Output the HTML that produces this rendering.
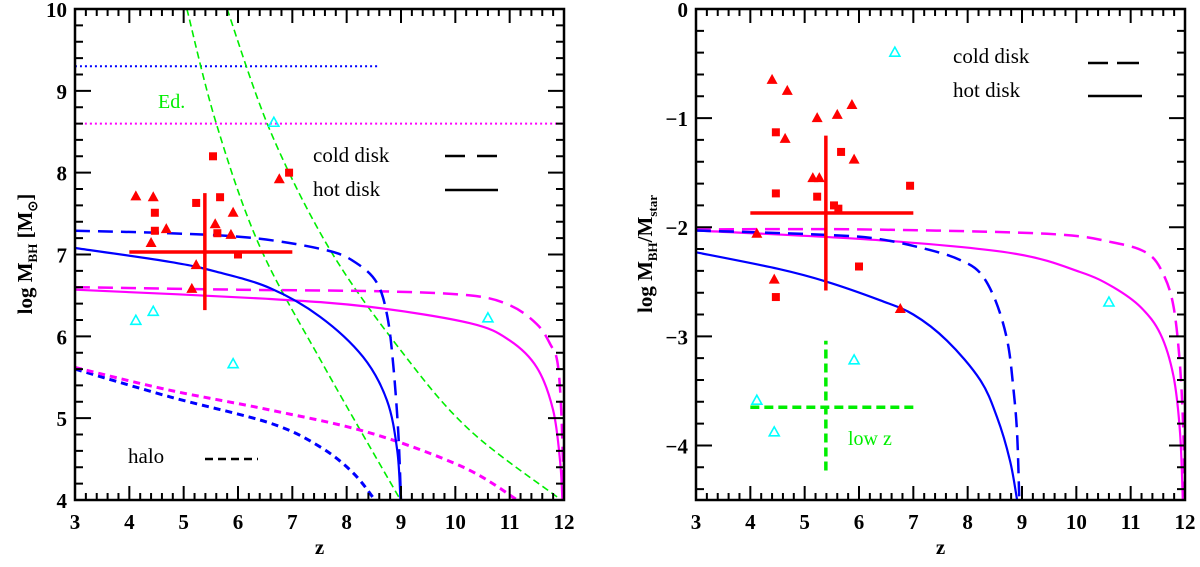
<!DOCTYPE html>
<html><head><meta charset="utf-8"><style>
body{margin:0;background:#fff;}
svg text{font-family:"Liberation Serif",serif;}
</style></head><body>
<svg id="c" width="1200" height="562" viewBox="0 0 1200 562" xmlns="http://www.w3.org/2000/svg"></svg>
<script>
// ---------- data ----------
const xTicks=[3,4,5,6,7,8,9,10,11,12];
const leftYTicks=[4,5,6,7,8,9,10];
const rightYTicks=[0,-1,-2,-3,-4];
// left panel
const L_triZ=[4.12,4.44,4.68,4.40,5.58,5.91,5.87,5.23,5.15,6.76];
const L_triV=[7.71,7.70,7.31,7.14,7.37,7.51,7.24,6.87,6.58,7.92];
const L_sqZ=[5.54,4.47,4.47,5.23,5.67,5.62,6.0,6.94];
const L_sqV=[8.20,7.51,7.29,7.63,7.70,7.26,7.0,8.0];
const L_cyZ=[4.12,4.44,5.91,6.66,10.6];
const L_cyV=[6.19,6.30,5.66,8.61,6.22];
const L_cross={z:5.39,v:7.03,z0:4.0,z1:7.0,v0:6.32,v1:7.75};
const L_blueDashZ=[3,4.75,6.3,7.64,8.19,8.56,8.75,8.86,8.95,9.0];
const L_blueDashV=[7.29,7.26,7.2,7.05,6.89,6.65,6.24,5.63,4.82,4.0];
const L_blueSolZ=[3,4.75,5.6,6.59,7.51,8.30,8.74,8.93,8.99];
const L_blueSolV=[7.08,6.91,6.79,6.59,6.24,5.75,5.22,4.61,4.0];
const L_magDashZ=[3,6,8.62,10.27,11,11.5,11.75,11.88,11.95,12];
const L_magDashV=[6.60,6.57,6.55,6.50,6.38,6.15,5.9,5.68,5.07,4.0];
const L_magSolZ=[3,6.5,8.43,10.27,11.0,11.5,11.8,11.93,11.97];
const L_magSolV=[6.57,6.46,6.36,6.16,5.95,5.62,5.1,4.46,4.0];
const L_haloBlueZ=[3,4.75,6.59,7.51,8.12,8.52];
const L_haloBlueV=[5.6,5.26,4.94,4.65,4.33,4.0];
const L_haloMagZ=[3,4.75,6.59,8.43,10.15,11.14];
const L_haloMagV=[5.62,5.34,5.10,4.82,4.40,4.0];
const L_ed1Z=[5.06,5.6,6.4,7.57,8.99];
const L_ed1V=[10,8.6,7.1,5.65,4.0];
const L_ed2Z=[5.80,6.6,7.7,9.04,10.27,11.95];
const L_ed2V=[10,8.5,7.05,5.79,4.85,4.0];
const L_dotBlue={v:9.3,z0:3,z1:8.6};
const L_dotMag={v:8.6,z0:3,z1:12};
// right panel
const R_triZ=[4.40,4.68,5.23,5.60,5.87,4.64,5.91,5.15,5.27,4.12,4.44,6.76];
const R_triV=[-0.65,-0.75,-1.0,-0.97,-0.88,-1.19,-1.38,-1.55,-1.55,-2.06,-2.48,-2.75];
const R_sqZ=[4.47,5.67,4.47,5.23,6.94,5.54,5.62,6.0,4.47];
const R_sqV=[-1.13,-1.31,-1.69,-1.72,-1.62,-1.80,-1.83,-2.36,-2.64];
const R_cyZ=[4.12,4.44,5.91,6.66,10.6];
const R_cyV=[-3.59,-3.88,-3.22,-0.40,-2.69];
const R_cross={z:5.39,v:-1.87,z0:4.0,z1:7.0,v0:-2.58,v1:-1.16};
const R_lowz={z:5.39,v:-3.65,z0:4.0,z1:7.0,v0:-4.23,v1:-3.04};
const R_blueDashZ=[3,5.41,6.39,7.31,7.86,8.23,8.51,8.73,8.84,8.91,8.95];
const R_blueDashV=[-2.03,-2.07,-2.11,-2.21,-2.30,-2.42,-2.67,-3.04,-3.47,-3.89,-4.5];
const R_blueSolZ=[3,4.5,5.41,6.39,7.0,7.62,8.23,8.54,8.78,8.91];
const R_blueSolV=[-2.23,-2.38,-2.50,-2.67,-2.80,-3.04,-3.40,-3.74,-4.14,-4.5];
const R_magSolZ=[3,6.39,8.84,10.07,10.68,11.18,11.55,11.79,11.91,11.96];
const R_magSolV=[-2.03,-2.12,-2.24,-2.41,-2.55,-2.73,-2.98,-3.37,-3.89,-4.5];
const R_magDashZ=[3,6,9.46,10.68,11.31,11.6,11.79,11.91,11.97,11.99];
const R_magDashV=[-2.02,-2.02,-2.06,-2.14,-2.24,-2.43,-2.73,-3.28,-3.89,-4.5];

const NS="http://www.w3.org/2000/svg";
const svg=document.getElementById('c');
function mk(t,a,p){const e=document.createElementNS(NS,t);for(const k in a)e.setAttribute(k,a[k]);(p||svg).appendChild(e);return e;}

const L={x0:75,x1:564,y0:9,y1:500,vmin:4,vmax:10};
const R={x0:696,x1:1185,y0:9,y1:500,vmin:-4.5,vmax:0};
function X(P,z){return P.x0+(z-3)/9*(P.x1-P.x0);}
function Y(P,v){return P.y1-(v-P.vmin)/(P.vmax-P.vmin)*(P.y1-P.y0);}

function axes(P,yTicks,name){
  const g=mk('g',{});
  
  
  mk('rect',{x:P.x0,y:P.y0,width:P.x1-P.x0,height:P.y1-P.y0,fill:'none',stroke:'#000','stroke-width':2.5},g);
  let d='';
  for(let i=0;i<=45;i++){const z=3+i*0.2;const x=X(P,z);const L2=(i%5==0)?14:7;
    d+=`M${x},${P.y1}v${-L2}M${x},${P.y0}v${L2}`;}
  const nmin=Math.round(P.vmin*5),nmax=Math.round(P.vmax*5);
  for(let n=nmin;n<=nmax;n++){const y=Y(P,n/5);const L2=(n%5==0)?16:8;
    d+=`M${P.x0},${y}h${L2}M${P.x1},${y}h${-L2}`;}
  mk('path',{d:d,stroke:'#000','stroke-width':2,fill:'none'},g);
  xTicks.forEach(z=>{const t=mk('text',{x:X(P,z),y:P.y1+29,'text-anchor':'middle','font-size':21,'font-weight':'bold'},g);t.textContent=z;
    
    });
  yTicks.forEach(v=>{const t=mk('text',{x:P.x0-8,y:Y(P,v)+8,'text-anchor':'end','font-size':21,'font-weight':'bold'},g);t.textContent=(v<0?'\u2212'+(-v):v);
    
    });
  const xl=mk('text',{x:(P.x0+P.x1)/2,y:554,'text-anchor':'middle','font-size':21,'font-weight':'bold'},g);xl.textContent='z';
  
  
}
function smoothPath(pts){
  let d='M'+pts[0][0].toFixed(1)+','+pts[0][1].toFixed(1);
  for(let i=0;i<pts.length-1;i++){
    const p0=pts[Math.max(0,i-1)],p1=pts[i],p2=pts[i+1],p3=pts[Math.min(pts.length-1,i+2)];
    const c1=[p1[0]+(p2[0]-p0[0])/6,p1[1]+(p2[1]-p0[1])/6];
    const c2=[p2[0]-(p3[0]-p1[0])/6,p2[1]-(p3[1]-p1[1])/6];
    d+=`C${c1[0].toFixed(1)},${c1[1].toFixed(1)} ${c2[0].toFixed(1)},${c2[1].toFixed(1)} ${p2[0].toFixed(1)},${p2[1].toFixed(1)}`;
  }
  return d;
}
function line(P,Z,V,color,w,dash,name){
  const pts=Z.map((z,i)=>[X(P,z),Y(P,V[i])]);
  const e=mk('path',{d:smoothPath(pts),stroke:color,'stroke-width':w,fill:'none','stroke-dasharray':dash||'none','clip-path':'url(#clip'+(P===L?'L':'R')+')'});
  
  
}
function tris(P,Z,V,name){Z.forEach((z,i)=>{const x=X(P,z),y=Y(P,V[i]);
  const e=mk('path',{d:`M${x},${y-6}L${x+5.5},${y+4}L${x-5.5},${y+4}Z`,fill:'#f00'});
  
  });}
function sqs(P,Z,V,name){Z.forEach((z,i)=>{const x=X(P,z),y=Y(P,V[i]);
  const e=mk('rect',{x:x-4,y:y-4,width:8,height:8,fill:'#f00'});
  
  });}
function cy(P,Z,V,name){Z.forEach((z,i)=>{const x=X(P,z),y=Y(P,V[i]);
  const e=mk('path',{d:`M${x},${y-5.5}L${x+5},${y+3.5}L${x-5},${y+3.5}Z`,fill:'none',stroke:'#0ff','stroke-width':1.6});
  
  });}
function cross(P,c,color,w,dash,name){
  const g=mk('g',{stroke:color,'stroke-width':w,'stroke-dasharray':dash||'none'});
  
  
  mk('line',{x1:X(P,c.z0),x2:X(P,c.z1),y1:Y(P,c.v),y2:Y(P,c.v)},g);
  mk('line',{x1:X(P,c.z),x2:X(P,c.z),y1:Y(P,c.v0),y2:Y(P,c.v1)},g);
}
function txt(x,y,s,size,color,name){const t=mk('text',{x:x,y:y,'font-size':size,fill:color});t.textContent=s;
  
  return t;}

const defs=mk('defs',{});
const cl=mk('clipPath',{id:'clipL'},defs);mk('rect',{x:L.x0,y:L.y0,width:L.x1-L.x0,height:L.y1-L.y0},cl);
const cr=mk('clipPath',{id:'clipR'},defs);mk('rect',{x:R.x0,y:R.y0,width:R.x1-R.x0,height:R.y1-R.y0},cr);

// left panel
line(L,[L_dotBlue.z0,L_dotBlue.z1],[L_dotBlue.v,L_dotBlue.v],'#0000ff',2,'2,3','eddington-blue-dotted');
line(L,[L_dotMag.z0,L_dotMag.z1],[L_dotMag.v,L_dotMag.v],'#ff00ff',2,'2,3','eddington-magenta-dotted');
line(L,L_ed1Z,L_ed1V,'#00ee00',1.6,'7,4','ed-line-1');
line(L,L_ed2Z,L_ed2V,'#00ee00',1.6,'7,4','ed-line-2');
line(L,L_haloBlueZ,L_haloBlueV,'#0000ff',3,'7,5','halo-blue');
line(L,L_haloMagZ,L_haloMagV,'#ff00ff',3,'7,5','halo-magenta');
line(L,L_magSolZ,L_magSolV,'#ff00ff',2.2,null,'hot-disk-magenta');
line(L,L_magDashZ,L_magDashV,'#ff00ff',2.5,'15,8','cold-disk-magenta');
line(L,L_blueSolZ,L_blueSolV,'#0000ff',2.2,null,'hot-disk-blue');
line(L,L_blueDashZ,L_blueDashV,'#0000ff',2.5,'15,8','cold-disk-blue');
tris(L,L_triZ,L_triV,'red-triangle');
sqs(L,L_sqZ,L_sqV,'red-square');
cy(L,L_cyZ,L_cyV,'cyan-triangle');
cross(L,L_cross,'#f00',3.5,null,'mean-cross');
axes(L,leftYTicks,'left');
txt(158,108,'Ed.',20,'#00ee00','ed-label');
txt(313,162,'cold disk',21,'#000','legend-cold-disk');
mk('path',{d:'M445,156h20M477,156h20',stroke:'#000','stroke-width':2.5});
txt(313,196,'hot disk',21,'#000','legend-hot-disk');
mk('path',{d:'M445,190h53',stroke:'#000','stroke-width':2.5});
txt(128,463,'halo',21,'#000','legend-halo');
mk('path',{d:'M205,459h53',stroke:'#000','stroke-width':2.5,'stroke-dasharray':'8,5'});
const yl=mk('text',{x:0,y:0,'font-size':21,'font-weight':'bold',transform:'translate(32,254) rotate(-90)','text-anchor':'middle'});
yl.innerHTML='log M<tspan font-size="13" dy="5">BH</tspan><tspan dy="-5"> [M</tspan><tspan font-size="13" dy="5">⊙</tspan><tspan dy="-5">]</tspan>';



// right panel
line(R,R_magDashZ,R_magDashV,'#ff00ff',2.5,'15,8','cold-disk-magenta-r');
line(R,R_magSolZ,R_magSolV,'#ff00ff',2.2,null,'hot-disk-magenta-r');
line(R,R_blueSolZ,R_blueSolV,'#0000ff',2.2,null,'hot-disk-blue-r');
line(R,R_blueDashZ,R_blueDashV,'#0000ff',2.5,'15,8','cold-disk-blue-r');
tris(R,R_triZ,R_triV,'red-triangle-r');
sqs(R,R_sqZ,R_sqV,'red-square-r');
cy(R,R_cyZ,R_cyV,'cyan-triangle-r');
cross(R,R_cross,'#f00',3.5,null,'mean-cross-r');
cross(R,R_lowz,'#00ee00',3.5,'9,5','low-z-cross');
axes(R,rightYTicks,'right');
txt(848,445,'low z',20,'#00ee00','low-z-label');
txt(953,63,'cold disk',21,'#000','legend-cold-disk-r');
mk('path',{d:'M1088,63h20M1117,63h22',stroke:'#000','stroke-width':2.5});
txt(953,97,'hot disk',21,'#000','legend-hot-disk-r');
mk('path',{d:'M1088,96h54',stroke:'#000','stroke-width':2.5});
const yr=mk('text',{x:0,y:0,'font-size':21,'font-weight':'bold',transform:'translate(652,254) rotate(-90)','text-anchor':'middle'});
yr.innerHTML='log M<tspan font-size="13" dy="5">BH</tspan><tspan dy="-5">/M</tspan><tspan font-size="13" dy="5">star</tspan>';


</script>
</body></html>
